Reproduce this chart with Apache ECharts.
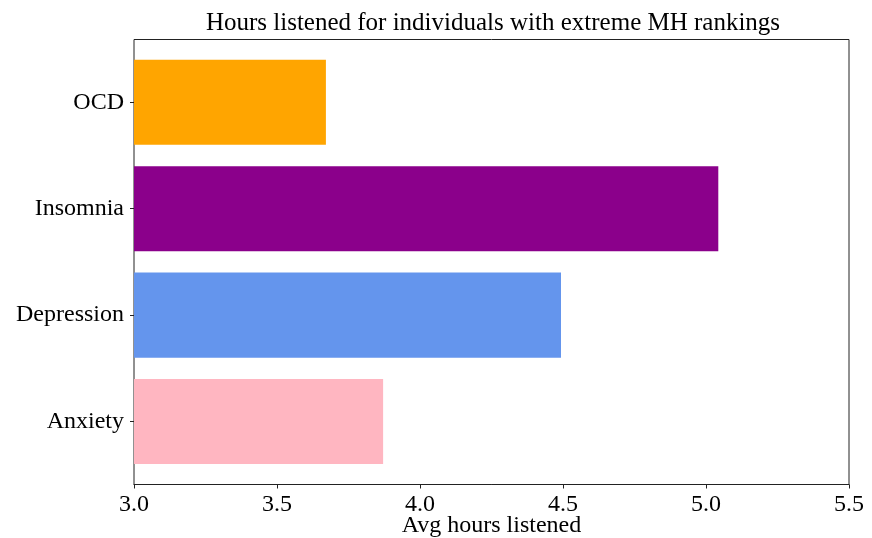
<!DOCTYPE html>
<html>
<head>
<meta charset="utf-8">
<script src="https://cdn.jsdelivr.net/npm/echarts@6/dist/echarts.min.js"></script>
<style>
  html, body { margin: 0; padding: 0; background: #fff; }
  #chart { width: 872px; height: 538px; }
</style>
</head>
<body>
<div id="chart"></div>
<script>
// Average listening hours per condition (extreme self-rankings)
const categories = ['Anxiety', 'Depression', 'Insomnia', 'OCD'];
const avgHours = [3.871, 4.493, 5.043, 3.671];
const barColors = ['#FFB6C1', '#6495ED', '#8B008B', '#FFA500'];
const xTicks = { min: 3.0, max: 5.5, step: 0.5 };

const FONT = 'Liberation Serif';
const chart = echarts.init(document.getElementById('chart'), null, { renderer: 'canvas' });

chart.setOption({
  backgroundColor: '#fff',
  animation: false,
  title: {
    text: 'Hours listened for individuals with extreme MH rankings',
    left: 488, top: 6, textAlign: 'center',
    textStyle: { fontFamily: FONT, fontSize: 25, fontWeight: 'normal', color: '#000' }
  },
  grid: [
    // outer frame with the value axis
    { left: 134, right: 23, top: 39.5, bottom: 53.5, outerBoundsMode: 'none', containLabel: false,
      show: true, borderColor: '#222', borderWidth: 1, backgroundColor: 'transparent' },
    // bar area inset by the axis margins
    { left: 134, right: 23, top: 49.1, bottom: 63.3, outerBoundsMode: 'none', containLabel: false }
  ],
  xAxis: [
    {
      gridIndex: 0, type: 'value', min: xTicks.min, max: xTicks.max, interval: xTicks.step,
      axisLine: { show: true, lineStyle: { color: '#222', width: 1 } },
      axisTick: { show: true, inside: false, length: 4, lineStyle: { color: '#222' } },
      axisLabel: { fontFamily: FONT, fontSize: 24, color: '#000', margin: 8, formatter: v => v.toFixed(1) },
      splitLine: { show: false },
      name: 'Avg hours listened', nameLocation: 'middle', nameGap: 29, nameMoveOverlap: false,
      nameTextStyle: { fontFamily: FONT, fontSize: 24, color: '#000', verticalAlign: 'top' }
    },
    { gridIndex: 1, type: 'value', min: xTicks.min, max: xTicks.max, show: false }
  ],
  yAxis: [
    { gridIndex: 0, type: 'value', min: 0, max: 1, show: false },
    {
      gridIndex: 1, type: 'category', data: categories,
      axisLine: { show: false },
      axisTick: { show: true, alignWithLabel: true, length: 4, lineStyle: { color: '#222' } },
      axisLabel: { fontFamily: FONT, fontSize: 24, color: '#000', margin: 10 },
      splitLine: { show: false }
    }
  ],
  series: [{
    type: 'bar',
    xAxisIndex: 1, yAxisIndex: 1,
    barCategoryGap: '20%',
    data: avgHours.map((v, i) => ({ value: v, itemStyle: { color: barColors[i] } }))
  }]
});
</script>
</body>
</html>
